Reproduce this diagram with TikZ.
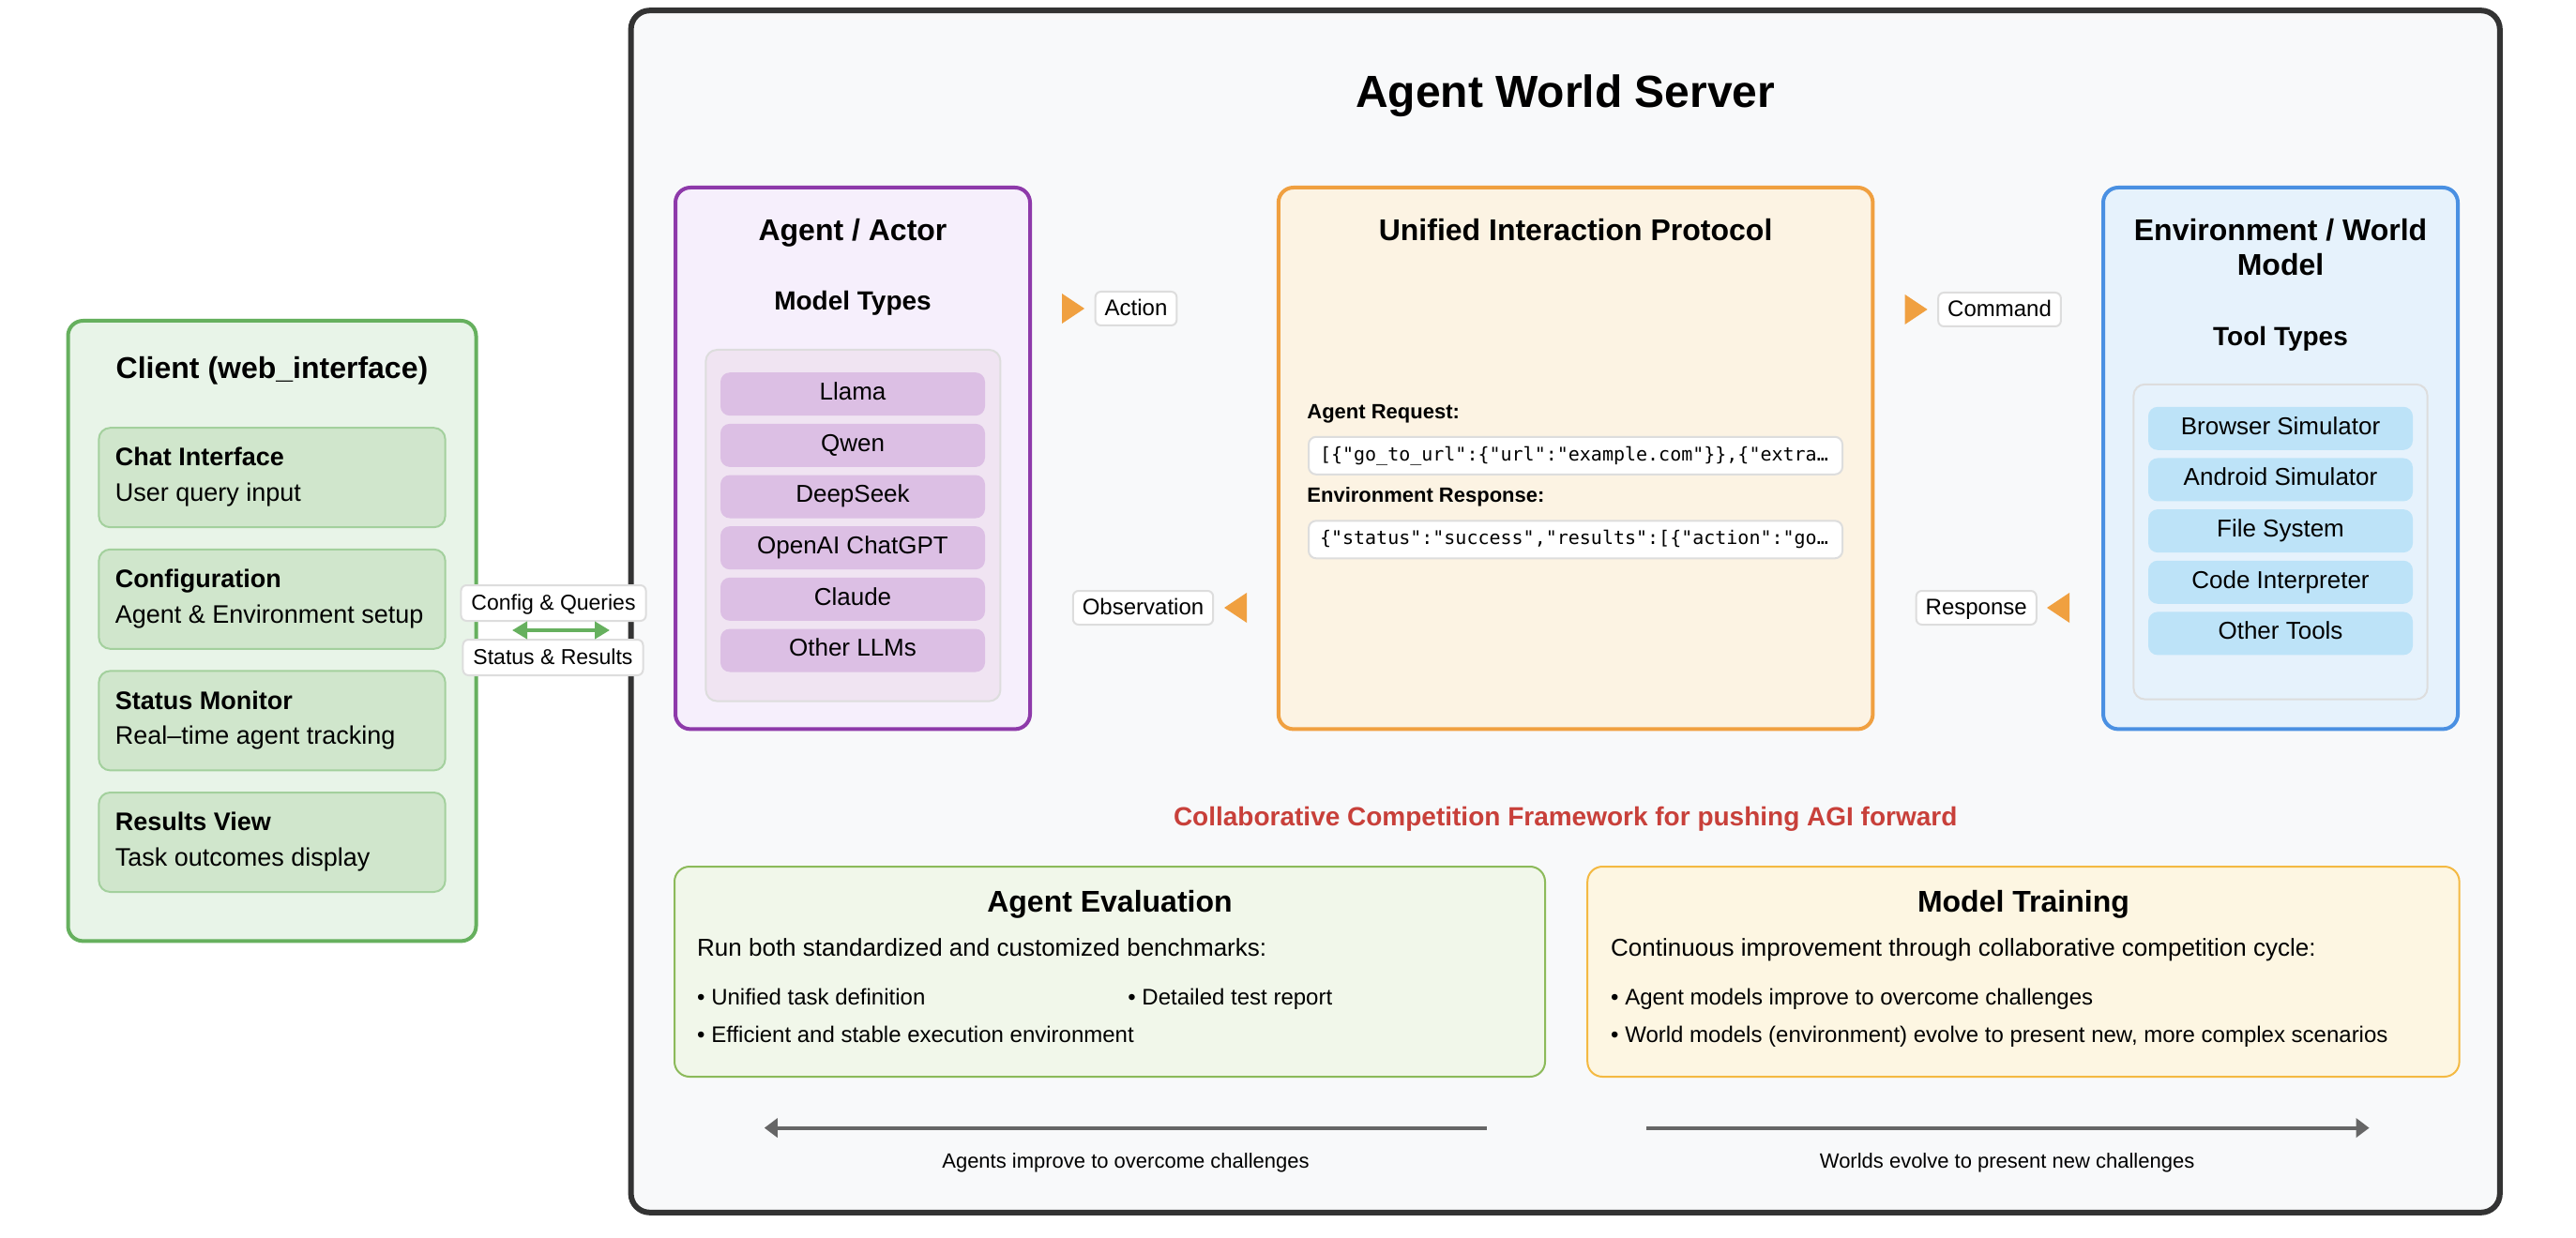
\documentclass[tikz,border=0pt]{standalone}
\usepackage{fontspec}
\setmainfont{Liberation Sans}
\newfontfamily\codefont{DejaVu Sans Mono}
\usetikzlibrary{arrows.meta}

\definecolor{serveurtrait}{HTML}{333333}
\definecolor{serveurfond}{HTML}{F8F9FA}
\definecolor{clienttrait}{HTML}{66B05E}
\definecolor{clientfond}{HTML}{E8F4E8}
\definecolor{clientitem}{HTML}{D0E6CC}
\definecolor{clientbord}{HTML}{A3D09D}
\definecolor{agenttrait}{HTML}{8E3AAA}
\definecolor{agentfond}{HTML}{F6EFFC}
\definecolor{agentboite}{HTML}{F0E4F2}
\definecolor{agentitem}{HTML}{DCBFE4}
\definecolor{prototrait}{HTML}{F0A040}
\definecolor{protofond}{HTML}{FCF3E3}
\definecolor{envtrait}{HTML}{4A90E2}
\definecolor{envfond}{HTML}{E6F2FC}
\definecolor{envitem}{HTML}{BDE3F8}
\definecolor{bordgris}{HTML}{DDDDDD}
\definecolor{rouge}{HTML}{C8403A}
\definecolor{evaltrait}{HTML}{8CBA5A}
\definecolor{evalfond}{HTML}{F1F7EA}
\definecolor{traintrait}{HTML}{F4B942}
\definecolor{trainfond}{HTML}{FDF6E2}
\definecolor{flechegris}{HTML}{666666}

\tikzset{
  cadre/.style={rounded corners=8pt, line width=2pt, inner sep=0pt},
  boite/.style={draw=bordgris, line width=1pt, rounded corners=6pt, inner sep=0pt},
  item/.style={rounded corners=5pt, inner sep=0pt, minimum width=141pt, minimum height=23pt,
    text height=0.86em, text depth=0.22em, font=\fontsize{13}{15}\selectfont},
  citem/.style={draw=clientbord, fill=clientitem, line width=1pt, rounded corners=6pt,
    inner sep=0pt, minimum width=184.6pt, minimum height=53pt},
  texte/.style={inner sep=0pt, text height=1em, text depth=0.22em},
  titre/.style={texte, font=\bfseries\fontsize{16}{19}\selectfont},
  soustitre/.style={texte, font=\bfseries\fontsize{14}{17}\selectfont},
  etiq/.style={draw=bordgris, fill=white, line width=1pt, rounded corners=3pt, inner xsep=5pt,
    inner ysep=0pt, minimum height=18pt, text height=0.94em, text depth=0.22em,
    font=\fontsize{12}{14}\selectfont},
  cetiq/.style={etiq, inner xsep=5.5pt, minimum height=19pt, font=\fontsize{11.5}{14}\selectfont},
  code/.style={draw=bordgris, fill=white, line width=1pt, rounded corners=4pt, minimum height=20pt,
    text width=272.5pt, inner xsep=6pt, inner ysep=0pt, align=left,
    font=\codefont\fontsize{10}{12}\selectfont},
  puce/.style={texte, anchor=west, font=\fontsize{12}{14}\selectfont},
  pointe/.style={fill=prototrait},
  gris/.style={draw=flechegris, line width=2pt, -{Triangle[length=7pt,width=10pt]}},
  vert/.style={draw=clienttrait, line width=2pt,
    {Triangle[length=8pt,width=9pt]}-{Triangle[length=8pt,width=9pt]}}
}

\begin{document}
\begin{tikzpicture}[x=1pt, y=-1pt]
    \fill[white] (0,0) rectangle (1373,660);
    \useasboundingbox (0,0) rectangle (1373,660);

    % Le serveur
    \node[draw=serveurtrait, fill=serveurfond, line width=3pt, rounded corners=10pt, inner sep=0pt,
      minimum width=996.1pt, minimum height=640.8pt] (serveur) at (834.35,326) {};
    \node[texte, font=\bfseries\fontsize{24}{28}\selectfont] (titre) at (834.35,53.4) {Agent World Server};

    % Le client
    \node[cadre, draw=clienttrait, fill=clientfond, minimum width=217.5pt, minimum height=330.7pt]
      (client) at (145,336.35) {};
    \node[titre] (clientT) at (145,197.9) {Client (web\_interface)};
    \foreach \y/\nom/\tit/\desc in {254.6/chat/Chat Interface/User query input,
        319.4/config/Configuration/Agent \& Environment setup,
        384.2/status/Status Monitor/Real--time agent tracking,
        449/results/Results View/Task outcomes display} {
      \node[citem] (\nom) at (145,\y) {};
      \node[texte, anchor=west, font=\bfseries\fontsize{13.5}{16}\selectfont] (\nom T) at (61.2,\y-10) {\tit};
      \node[texte, anchor=west, font=\fontsize{13.5}{16}\selectfont] (\nom D) at (61.2,\y+8.7) {\desc};
    }

    % Les échanges client / serveur
    \node[cetiq] (queries) at (295,321.5) {Config \& Queries};
    \node[cetiq] (resultats) at (294.75,350.5) {Status \& Results};
    \coordinate (cfgL) at (273,336);
    \coordinate (cfgR) at (325,336);
    \draw[vert] (cfgL) -- (cfgR);

    % L'agent
    \node[cadre, draw=agenttrait, fill=agentfond, minimum width=189pt, minimum height=288.7pt]
      (agent) at (454.5,244.35) {};
    \node[titre] (agentT) at (454.5,124.5) {Agent / Actor};
    \node[soustitre] (modeles) at (454.5,161.5) {Model Types};
    \node[boite, fill=agentboite, minimum width=157pt, minimum height=187.3pt] (llms) at (454.7,280.15) {};
    \foreach \m [count=\i from 0] in {Llama, Qwen, DeepSeek, OpenAI ChatGPT, Claude, Other LLMs}
      \node[item, fill=agentitem] (llm\i) at (454.5,210.1+27.33*\i) {\m};

    % Le protocole
    \node[cadre, draw=prototrait, fill=protofond, minimum width=316.8pt, minimum height=288.7pt]
      (proto) at (839.8,244.35) {};
    \node[titre] (protoT) at (839.8,124.5) {Unified Interaction Protocol};
    \node[texte, anchor=west, font=\bfseries\fontsize{11}{13}\selectfont] (requete) at (696.5,219.2) {Agent Request:};
    \node[code] (requeteC) at (839.75,242.9)
      {[\{"go\_to\_url":\{"url":"example.com"\}\},\{"extra…};
    \node[texte, anchor=west, font=\bfseries\fontsize{11}{13}\selectfont] (reponse) at (696.5,264) {Environment Response:};
    \node[code] (reponseC) at (839.75,287.65)
      {\{"status":"success","results":[\{"action":"go…};

    % L'environnement
    \node[cadre, draw=envtrait, fill=envfond, minimum width=189pt, minimum height=288.7pt]
      (env) at (1215.5,244.35) {};
    \node[titre] (envT) at (1215.5,124.5) {Environment / World};
    \node[titre] (envT2) at (1215.5,142.8) {Model};
    \node[soustitre] (outils) at (1215.5,180.3) {Tool Types};
    \node[boite, fill=envfond, minimum width=156.6pt, minimum height=167.9pt] (tools) at (1215.5,288.85) {};
    \foreach \m [count=\i from 0] in {Browser Simulator, Android Simulator, File System, Code Interpreter, Other Tools}
      \node[item, fill=envitem] (tool\i) at (1215.5,228.4+27.33*\i) {\m};

    % Les flèches orange
    \fill[pointe] (566,156.5) -- (578,164.5) -- (566,172.5) -- cycle;
    \node[etiq] (action) at (605.5,164.5) {Action};
    \fill[pointe] (664.5,316) -- (652.5,324) -- (664.5,332) -- cycle;
    \node[etiq] (observation) at (609.25,324) {Observation};
    \fill[pointe] (1015.3,157) -- (1027.3,165) -- (1015.3,173) -- cycle;
    \node[etiq] (commande) at (1065.75,165) {Command};
    \fill[pointe] (1103,316) -- (1091,324) -- (1103,332) -- cycle;
    \node[etiq] (reponseE) at (1053.35,324) {Response};

    % Le cadre collaboratif
    \node[texte, text=rouge, font=\bfseries\fontsize{14}{17}\selectfont] (cadreT) at (834.35,436.5)
      {Collaborative Competition Framework for pushing AGI forward};

    \node[cadre, line width=1pt, draw=evaltrait, fill=evalfond, minimum width=464pt, minimum height=112pt]
      (eval) at (591.5,518) {};
    \node[titre] (evalT) at (591.5,482.2) {Agent Evaluation};
    \node[texte, anchor=west, font=\fontsize{13}{15}\selectfont] (evalR) at (371.4,506)
      {Run both standardized and customized benchmarks:};
    \node[puce] (evalP1) at (371.4,532) {• Unified task definition};
    \node[puce] (evalP2) at (601,532) {• Detailed test report};
    \node[puce] (evalP3) at (371.4,551.9) {• Efficient and stable execution environment};

    \node[cadre, line width=1pt, draw=traintrait, fill=trainfond, minimum width=464.7pt, minimum height=112pt]
      (train) at (1078.45,518) {};
    \node[titre] (trainT) at (1078.45,482.2) {Model Training};
    \node[texte, anchor=west, font=\fontsize{13}{15}\selectfont] (trainR) at (858.4,506)
      {Continuous improvement through collaborative competition cycle:};
    \node[puce] (trainP1) at (858.4,532) {• Agent models improve to overcome challenges};
    \node[puce] (trainP2) at (858.4,551.9) {• World models (environment) evolve to present new, more complex scenarios};

    % Les flèches du cycle
    \coordinate (agD) at (792.3,601.3);
    \coordinate (agG) at (407.4,601.3);
    \draw[gris] (agD) -- (agG);
    \node[texte, font=\fontsize{11}{13}\selectfont] (agentsL) at (600,619) {Agents improve to overcome challenges};
    \coordinate (wdG) at (877.4,601.3);
    \coordinate (wdD) at (1262.8,601.3);
    \draw[gris] (wdG) -- (wdD);
    \node[texte, font=\fontsize{11}{13}\selectfont] (mondesL) at (1069.8,619) {Worlds evolve to present new challenges};
\end{tikzpicture}
\end{document}
